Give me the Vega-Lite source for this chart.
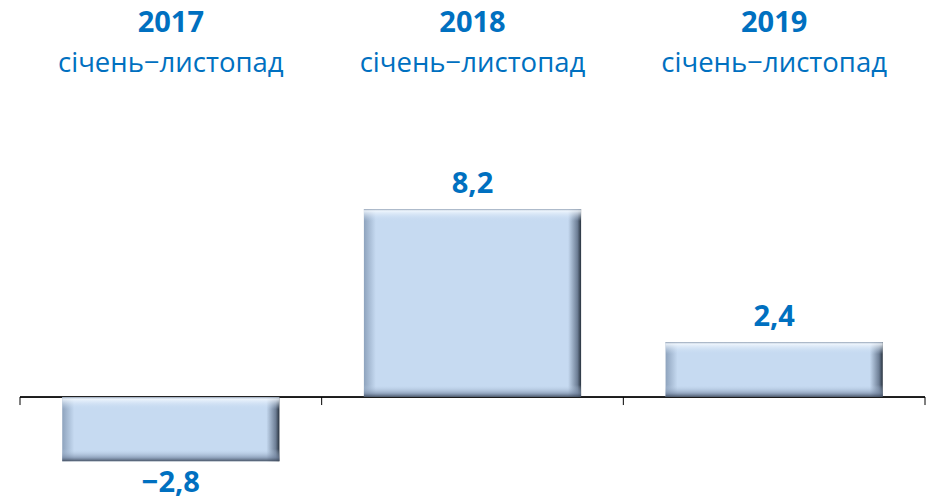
{
  "$schema": "https://vega.github.io/schema/vega-lite/v6.json",
  "width": 905,
  "height": 500,
  "autosize": {"type": "none"},
  "padding": {"left": 20, "top": 0, "right": 3, "bottom": 0},
  "background": "white",
  "config": {
    "view": {"stroke": null},
    "locale": {"number": {"decimal": ",", "thousands": " ", "grouping": [3], "currency": ["", ""], "minus": "−"}},
    "text": {"font": "Open Sans", "color": "#0070C0"}
  },
  "data": {"values": [
    {"year": "2017", "period": "січень−листопад", "value": -2.8},
    {"year": "2018", "period": "січень−листопад", "value": 8.2},
    {"year": "2019", "period": "січень−листопад", "value": 2.4}
  ]},
  "encoding": {
    "x": {"field": "year", "type": "nominal", "sort": null, "axis": null,
          "scale": {"domain": ["2017", "2018", "2019"], "paddingInner": 0.28, "paddingOuter": 0.14}}
  },
  "resolve": {"scale": {"y": "shared", "x": "independent"}},
  "layer": [
    {
      "mark": {"type": "rule", "color": "#000000", "strokeWidth": 1},
      "encoding": {"x": null, "y": {"datum": 0, "type": "quantitative", "scale": {"domain": [-4.49, 17.31], "nice": false, "zero": false}, "axis": null}}
    },
    {
      "mark": {"type": "rule", "color": "#000000", "strokeWidth": 1},
      "encoding": {
        "x": {"field": "year", "type": "nominal", "sort": null, "bandPosition": 0, "axis": null, "scale": {"domain": ["2017", "2018", "2019"], "paddingInner": 0, "paddingOuter": 0}},
        "y": {"datum": 0, "type": "quantitative"},
        "y2": {"datum": -0.35}
      }
    },
    {
      "transform": [{"filter": "datum.year == '2019'"}],
      "mark": {"type": "rule", "color": "#000000", "strokeWidth": 1},
      "encoding": {
        "x": {"field": "year", "type": "nominal", "sort": null, "bandPosition": 1, "axis": null, "scale": {"domain": ["2017", "2018", "2019"], "paddingInner": 0, "paddingOuter": 0}},
        "y": {"datum": 0, "type": "quantitative"},
        "y2": {"datum": -0.35}
      }
    },
    {
      "mark": {"type": "bar", "fill": {"gradient": "linear", "x1": 0, "y1": 0, "x2": 1, "y2": 0,
        "stops": [
          {"offset": 0, "color": "#8ea3bd"},
          {"offset": 0.055, "color": "#c6daf1"},
          {"offset": 0.94, "color": "#c6daf1"},
          {"offset": 0.983, "color": "#6d7e95"},
          {"offset": 1, "color": "#27313d"}
        ]}},
      "encoding": {"y": {"field": "value", "type": "quantitative"}}
    },
    {
      "transform": [{"filter": "datum.year == '2017'"}],
      "mark": {"type": "bar", "fill": {"gradient": "linear", "x1": 0, "y1": 0, "x2": 0, "y2": 1,
        "stops": [
          {"offset": 0, "color": "rgba(140,155,175,0.9)"},
          {"offset": 0.03, "color": "rgba(245,250,255,0.85)"},
          {"offset": 0.19, "color": "rgba(198,218,241,0)"},
          {"offset": 0.81, "color": "rgba(198,218,241,0)"},
          {"offset": 0.94, "color": "rgba(120,138,165,0.65)"},
          {"offset": 1, "color": "rgba(60,72,90,0.9)"}
        ]}},
      "encoding": {"y": {"field": "value", "type": "quantitative"}}
    },
    {
      "transform": [{"filter": "datum.year == '2018'"}],
      "mark": {"type": "bar", "fill": {"gradient": "linear", "x1": 0, "y1": 0, "x2": 0, "y2": 1,
        "stops": [
          {"offset": 0, "color": "rgba(140,155,175,0.9)"},
          {"offset": 0.01, "color": "rgba(245,250,255,0.85)"},
          {"offset": 0.064, "color": "rgba(198,218,241,0)"},
          {"offset": 0.936, "color": "rgba(198,218,241,0)"},
          {"offset": 0.98, "color": "rgba(120,138,165,0.65)"},
          {"offset": 1, "color": "rgba(60,72,90,0.9)"}
        ]}},
      "encoding": {"y": {"field": "value", "type": "quantitative"}}
    },
    {
      "transform": [{"filter": "datum.year == '2019'"}],
      "mark": {"type": "bar", "fill": {"gradient": "linear", "x1": 0, "y1": 0, "x2": 0, "y2": 1,
        "stops": [
          {"offset": 0, "color": "rgba(140,155,175,0.9)"},
          {"offset": 0.035, "color": "rgba(245,250,255,0.85)"},
          {"offset": 0.22, "color": "rgba(198,218,241,0)"},
          {"offset": 0.78, "color": "rgba(198,218,241,0)"},
          {"offset": 0.93, "color": "rgba(120,138,165,0.65)"},
          {"offset": 1, "color": "rgba(60,72,90,0.9)"}
        ]}},
      "encoding": {"y": {"field": "value", "type": "quantitative"}}
    },
    {
      "mark": {"type": "text", "fontWeight": "bold", "fontSize": 29, "baseline": "middle"},
      "encoding": {"text": {"field": "year"}, "y": {"datum": 16.3, "type": "quantitative"}}
    },
    {
      "mark": {"type": "text", "fontSize": 27.5, "baseline": "middle"},
      "encoding": {"text": {"field": "period"}, "y": {"datum": 14.53, "type": "quantitative"}}
    },
    {
      "transform": [{"filter": "datum.value >= 0"}],
      "mark": {"type": "text", "fontWeight": "bold", "fontSize": 29, "baseline": "middle", "dy": -25},
      "encoding": {"text": {"field": "value", "type": "quantitative", "format": ".1f"}, "y": {"field": "value", "type": "quantitative"}}
    },
    {
      "transform": [{"filter": "datum.value < 0"}],
      "mark": {"type": "text", "fontWeight": "bold", "fontSize": 29, "baseline": "middle", "dy": 22},
      "encoding": {"text": {"field": "value", "type": "quantitative", "format": ".1f"}, "y": {"field": "value", "type": "quantitative"}}
    }
  ]
}
